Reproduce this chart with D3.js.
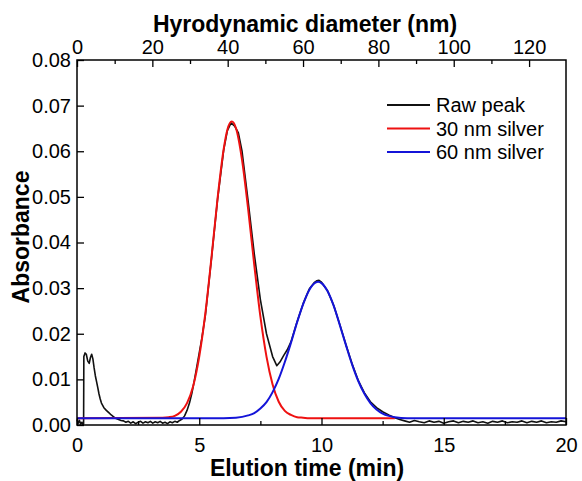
<!DOCTYPE html>
<html>
<head>
<meta charset="utf-8">
<script src="https://cdn.jsdelivr.net/npm/d3@7"></script>
<style>
  body { margin: 0; background: #fff; }
  text { font-family: Arial, "Liberation Sans", sans-serif; }
</style>
</head>
<body>
<div id="chart"></div>
<script>
// ---- data ----
const xTicks = [0, 5, 10, 15, 20];
const xMinor = [2.5, 7.5, 12.5, 17.5];
const topTicks = [0, 20, 40, 60, 80, 100, 120];
const topMinor = [10, 30, 50, 70, 90, 110];
const yTicks = [0, 0.01, 0.02, 0.03, 0.04, 0.05, 0.06, 0.07, 0.08];

// raw detector trace: [time, absorbance]
const rawPeak = [
  [0.00, 0.0012], [0.05, 0.0004], [0.10, 0.0010], [0.15, 0.0002], [0.20, 0.0006], [0.25, 0.0001],
  [0.27, 0.0003], [0.28, 0.0150], [0.33, 0.0158], [0.38, 0.0155], [0.44, 0.0140], [0.50, 0.0135],
  [0.55, 0.0148], [0.60, 0.0155], [0.65, 0.0145], [0.70, 0.0125], [0.75, 0.0108], [0.80, 0.0095],
  [0.85, 0.0082], [0.90, 0.0068], [0.95, 0.0057], [1.00, 0.0048], [1.10, 0.0038], [1.20, 0.0032],
  [1.30, 0.0027], [1.40, 0.0022], [1.50, 0.0018], [1.60, 0.0014], [1.70, 0.0012], [1.80, 0.0010],
  [1.90, 0.0009], [2.00, 0.0006], [2.10, 0.0008], [2.20, 0.0004], [2.30, 0.0007], [2.40, 0.0003],
  [2.50, 0.0006], [2.60, 0.0008], [2.70, 0.0004], [2.80, 0.0007], [2.90, 0.0005], [3.00, 0.0008],
  [3.10, 0.0004], [3.20, 0.0007], [3.30, 0.0005], [3.40, 0.0008], [3.50, 0.0004], [3.60, 0.0006],
  [3.70, 0.0003], [3.80, 0.0007], [3.90, 0.0005], [4.00, 0.0008], [4.10, 0.0006], [4.20, 0.0010],
  [4.30, 0.0013], [4.40, 0.0020], [4.50, 0.0032], [4.60, 0.0048], [4.70, 0.0070], [4.80, 0.0098],
  [4.90, 0.0128], [5.00, 0.0158], [5.10, 0.0188], [5.25, 0.0240], [5.50, 0.0365], [5.75, 0.0495],
  [6.00, 0.0603], [6.15, 0.0645], [6.30, 0.0662], [6.45, 0.0655], [6.60, 0.0640], [6.75, 0.0600],
  [7.00, 0.0490], [7.25, 0.0375], [7.50, 0.0275], [7.75, 0.0200], [8.00, 0.0150], [8.17, 0.0130],
  [8.30, 0.0138], [8.45, 0.0152], [8.60, 0.0165], [8.75, 0.0182], [9.00, 0.0226], [9.25, 0.0266],
  [9.50, 0.0298], [9.70, 0.0312], [9.80, 0.0316], [9.90, 0.0317], [10.00, 0.0313], [10.25, 0.0294],
  [10.50, 0.0262], [10.75, 0.0220], [11.00, 0.0176], [11.25, 0.0134], [11.50, 0.0098], [11.75, 0.0071],
  [12.00, 0.0051], [12.25, 0.0038], [12.50, 0.0029], [12.75, 0.0022], [13.00, 0.0016], [13.20, 0.0012],
  [13.40, 0.0009], [13.60, 0.0006], [13.80, 0.0010], [14.00, 0.0007], [14.20, 0.0005], [14.40, 0.0009],
  [14.60, 0.0006], [14.80, 0.0008], [15.00, 0.0004], [15.20, 0.0007], [15.40, 0.0009], [15.60, 0.0005],
  [15.80, 0.0008], [16.00, 0.0006], [16.20, 0.0009], [16.40, 0.0005], [16.60, 0.0007], [16.80, 0.0004],
  [17.00, 0.0008], [17.20, 0.0006], [17.40, 0.0009], [17.60, 0.0005], [17.80, 0.0007], [18.00, 0.0006],
  [18.20, 0.0009], [18.40, 0.0005], [18.60, 0.0008], [18.80, 0.0006], [19.00, 0.0009], [19.20, 0.0005],
  [19.40, 0.0007], [19.60, 0.0006], [19.80, 0.0009], [20.00, 0.0007]
];

// fitted 30 nm silver peak
const silver30 = [
  [0.0, 0.0015], [3.5, 0.0016], [3.75, 0.0017], [4.0, 0.0020], [4.25, 0.0029], [4.5, 0.0048],
  [4.75, 0.0085], [5.0, 0.0150], [5.25, 0.0245], [5.5, 0.0367], [5.75, 0.0497], [6.0, 0.0605],
  [6.15, 0.0647], [6.33, 0.0665], [6.5, 0.0651], [6.75, 0.0581], [7.0, 0.0473], [7.25, 0.0351],
  [7.5, 0.0238], [7.75, 0.0150], [8.0, 0.0089], [8.25, 0.0051], [8.5, 0.0031], [8.75, 0.0022],
  [9.0, 0.0017], [9.25, 0.0016], [9.5, 0.0015], [13.0, 0.0015]
];

// fitted 60 nm silver peak
const silver60 = [
  [0.0, 0.0015], [6.0, 0.0015], [6.5, 0.0016], [7.0, 0.0021], [7.25, 0.0026], [7.5, 0.0036],
  [7.75, 0.0050], [8.0, 0.0072], [8.25, 0.0101], [8.5, 0.0138], [8.75, 0.0180], [9.0, 0.0225],
  [9.25, 0.0265], [9.5, 0.0296], [9.75, 0.0312], [9.86, 0.0314], [10.0, 0.0311], [10.25, 0.0293],
  [10.5, 0.0261], [10.75, 0.0219], [11.0, 0.0175], [11.25, 0.0133], [11.5, 0.0097], [11.75, 0.0069],
  [12.0, 0.0048], [12.25, 0.0034], [12.5, 0.0025], [12.75, 0.0020], [13.0, 0.0017], [13.5, 0.0015],
  [20.0, 0.0015]
];

const series = [
  { name: 'Raw peak', color: '#111111', width: 1.6, values: rawPeak, curve: d3.curveLinear },
  { name: '30 nm silver', color: '#ee1111', width: 2, values: silver30, curve: d3.curveMonotoneX },
  { name: '60 nm silver', color: '#1414d8', width: 2, values: silver60, curve: d3.curveMonotoneX }
];

// ---- layout ----
const W = 582, H = 481;
const L = 77, R = 566, T = 60, B = 425;
const FONT = 'Arial, "Liberation Sans", sans-serif';

const svg = d3.select('#chart').append('svg')
  .attr('width', W).attr('height', H);

const x = d3.scaleLinear().domain([0, 20]).range([L, R]);
const xTop = d3.scaleLinear().domain([0, 129.8]).range([L, R]);
const y = d3.scaleLinear().domain([0, 0.08]).range([B, T]);

// lines
const line = d3.line().x(d => x(d[0])).y(d => y(d[1]));
const gLines = svg.append('g');
series.forEach(s => {
  gLines.append('path')
    .datum(s.values)
    .attr('fill', 'none')
    .attr('stroke', s.color)
    .attr('stroke-width', s.width)
    .attr('stroke-linejoin', 'round')
    .attr('d', line.curve(s.curve));
});

// frame
svg.append('rect')
  .attr('x', L).attr('y', T).attr('width', R - L).attr('height', B - T)
  .attr('fill', 'none').attr('stroke', '#000').attr('stroke-width', 1.5);

// axes
const styleAxis = g => {
  g.select('.domain').remove();
  g.selectAll('.tick line').attr('stroke', '#000').attr('stroke-width', 1.3);
  g.selectAll('.tick text').attr('font-size', 20).attr('fill', '#000')
    .style('font-family', FONT);
};

svg.append('g').attr('transform', `translate(0,${B})`)
  .call(d3.axisBottom(x).tickValues(xTicks).tickSize(-7).tickPadding(13).tickFormat(d3.format('d')))
  .call(styleAxis);
svg.append('g').attr('transform', `translate(0,${B})`)
  .call(d3.axisBottom(x).tickValues(xMinor).tickSize(-4).tickFormat(''))
  .call(styleAxis);

svg.append('g').attr('transform', `translate(0,${T})`)
  .call(d3.axisTop(xTop).tickValues(topTicks).tickSize(-7).tickPadding(6).tickFormat(d3.format('d')))
  .call(styleAxis);
svg.append('g').attr('transform', `translate(0,${T})`)
  .call(d3.axisTop(xTop).tickValues(topMinor).tickSize(-4).tickFormat(''))
  .call(styleAxis);

svg.append('g').attr('transform', `translate(${L},0)`)
  .call(d3.axisLeft(y).tickValues(yTicks).tickSize(-7).tickPadding(6).tickFormat(d3.format('.2f')))
  .call(styleAxis);

// titles
svg.append('text')
  .attr('x', 305).attr('y', 32)
  .attr('text-anchor', 'middle')
  .attr('font-size', 23).attr('font-weight', 'bold')
  .text('Hyrodynamic diameter (nm)');

svg.append('text')
  .attr('x', 307).attr('y', 476)
  .attr('text-anchor', 'middle')
  .attr('font-size', 23).attr('font-weight', 'bold')
  .text('Elution time (min)');

svg.append('text')
  .attr('transform', 'translate(29,237) rotate(-90)')
  .attr('text-anchor', 'middle')
  .attr('font-size', 23).attr('font-weight', 'bold')
  .text('Absorbance');

// legend
const legend = svg.append('g').attr('transform', 'translate(387,105)');
series.forEach((s, i) => {
  const row = legend.append('g').attr('transform', `translate(0,${i * 23.5})`);
  row.append('line')
    .attr('x1', 0).attr('x2', 43)
    .attr('stroke', s.color).attr('stroke-width', 2);
  row.append('text')
    .attr('x', 49).attr('y', 7)
    .attr('font-size', 20)
    .text(s.name);
});
</script>
</body>
</html>
